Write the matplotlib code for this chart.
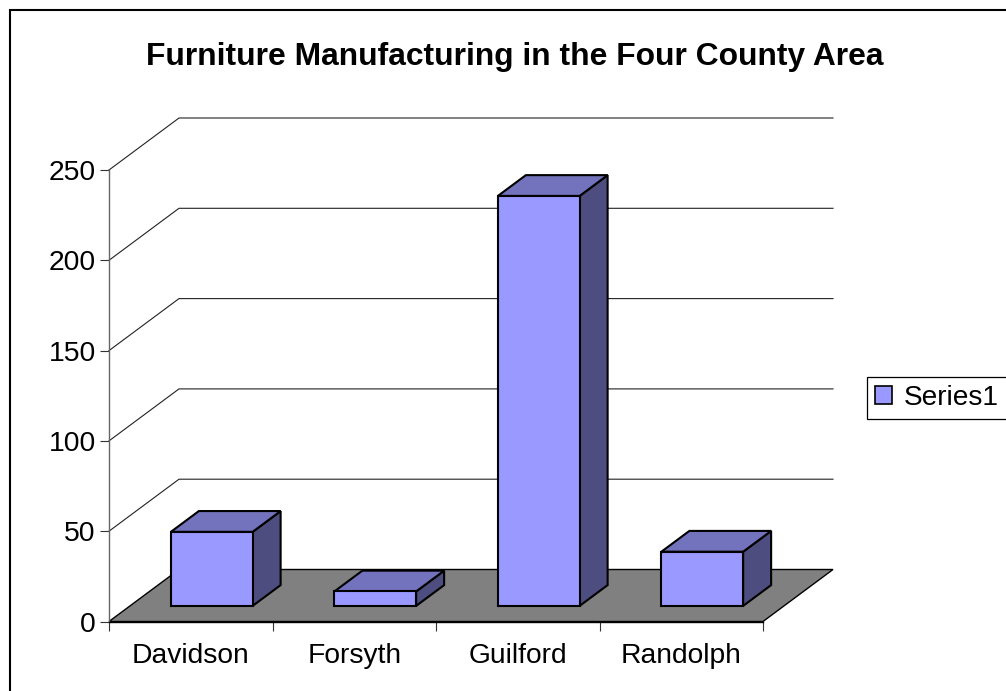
import matplotlib
matplotlib.use('Agg')
import matplotlib.pyplot as plt
from matplotlib.patches import Polygon, Patch, Rectangle

plt.rcParams['font.family'] = ['Liberation Sans', 'DejaVu Sans']

counties = ['Davidson', 'Forsyth', 'Guilford', 'Randolph']
values = [41, 8, 227, 30]
y_ticks = [0, 50, 100, 150, 200, 250]
title = 'Furniture Manufacturing in the Four County Area'
series_name = 'Series1'

W, H = 1006, 691
# plot box in pixels
left, right, top, bottom = 109, 763, 170, 621.5
depth_px = (70, 52)
bar_width = 0.5

front_col = '#9999FF'
top_col = '#7373BD'
side_col = '#4D4D80'
floor_col = '#808080'

fig = plt.figure(figsize=(W / 100, H / 100), dpi=100)
ax = fig.add_axes([left / W, 1 - bottom / H, (right - left) / W, (bottom - top) / H])
ax.set_xlim(0, len(counties))
ax.set_ylim(0, 250)

dx_unit = depth_px[0] / ((right - left) / len(counties))
dy_unit = depth_px[1] / ((bottom - top) / 250)


def pt(x, y, d=0.0):
    # oblique projection, d=0 front of chart, d=1 back wall
    return (x + d * dx_unit, y + d * dy_unit)


def poly(points, color, lw=1.0, z=2, edge='black'):
    ax.add_patch(Polygon(points, closed=True, facecolor=color, edgecolor=edge,
                         linewidth=lw, zorder=z, clip_on=False, joinstyle='miter'))


# back wall gridlines and side wall diagonals
n = len(counties)
for v in y_ticks[1:]:
    ax.plot([pt(0, v)[0], pt(0, v, 1)[0], pt(n, v, 1)[0]],
            [pt(0, v)[1], pt(0, v, 1)[1], pt(n, v, 1)[1]],
            color='#222222', lw=0.8, zorder=1, clip_on=False)

# floor
poly([pt(0, 0), pt(n, 0), pt(n, 0, 1), pt(0, 0, 1)], floor_col, lw=1.0, z=1.5)

# bars
d0, d1 = 0.3, 0.7
for i, v in enumerate(values):
    x0 = i + (1 - bar_width) / 2
    x1 = x0 + bar_width
    poly([pt(x1, 0, d0), pt(x1, 0, d1), pt(x1, v, d1), pt(x1, v, d0)], side_col, lw=1.5, z=3)
    poly([pt(x0, v, d0), pt(x1, v, d0), pt(x1, v, d1), pt(x0, v, d1)], top_col, lw=1.5, z=3)
    poly([pt(x0, 0, d0), pt(x1, 0, d0), pt(x1, v, d0), pt(x0, v, d0)], front_col, lw=1.5, z=4)

# axes
for s in ['top', 'right']:
    ax.spines[s].set_visible(False)
ax.patch.set_visible(False)
ax.spines['left'].set_color('#666666')
ax.spines['left'].set_linewidth(1.0)
ax.spines['bottom'].set_color('black')
ax.spines['bottom'].set_linewidth(1.0)
ax.spines['bottom'].set_zorder(5)
ax.set_yticks(y_ticks)
ax.set_xticks(range(n + 1))
ax.set_xticklabels([])
ax.set_xticks([i + 0.5 for i in range(n)], minor=True)
ax.set_xticklabels(counties, minor=True)
ax.tick_params(axis='x', which='major', length=6.5, width=0.8, color='#333333')
ax.tick_params(axis='x', which='minor', length=0, labelsize=20.3, pad=15.5)
ax.tick_params(axis='y', length=6.5, width=0.8, color='#333333', labelsize=20.4, pad=3)

fig.text(515 / W, 1 - 57.5 / H, title, ha='center', va='center',
         fontsize=22.9, fontweight='bold')

leg = ax.legend(handles=[Patch(facecolor=front_col, edgecolor='black', linewidth=1.2, label=series_name)],
                loc='center left', bbox_to_anchor=(867 / W, 1 - 398 / H),
                bbox_transform=fig.transFigure, fontsize=20.2, fancybox=False,
                framealpha=1, edgecolor='black', borderaxespad=0,
                handlelength=0.6, handleheight=0.6, handletextpad=0.4,
                borderpad=0.3)
leg.get_frame().set_linewidth(0.9)

# chart border, runs off the right and bottom of the picture
fig.add_artist(Rectangle((9.5 / W, -0.02), 1.1, 1 - 10 / H + 0.02, transform=fig.transFigure,
                         fill=False, edgecolor='black', linewidth=1.5))

plt.savefig('out.png', dpi=100)
